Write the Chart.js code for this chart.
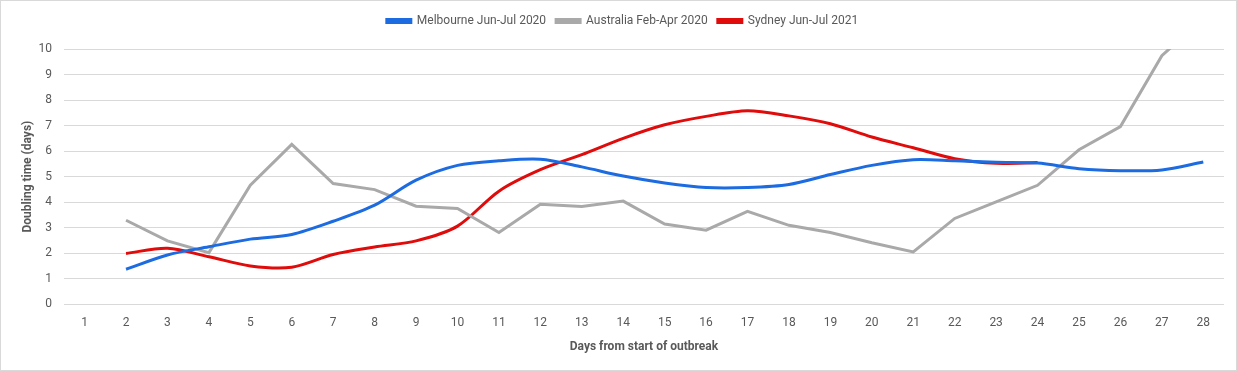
<!DOCTYPE html>
<html>
<head>
<meta charset="utf-8">
<script src="https://cdn.jsdelivr.net/npm/chart.js@4.4.0/dist/chart.umd.min.js"></script>
<style>
  html, body { margin: 0; padding: 0; background: #fff; }
  #wrap { position: relative; width: 1235px; height: 369px; border: 1px solid #d9d9d9; }
</style>
</head>
<body>
<div id="wrap"><canvas id="chart"></canvas></div>
<script>
const days = ['1','2','3','4','5','6','7','8','9','10','11','12','13','14','15','16','17','18','19','20','21','22','23','24','25','26','27','28'];
const melbourne = [null, 1.37, 1.93, 2.25, 2.55, 2.73, 3.25, 3.88, 4.86, 5.44, 5.62, 5.68, 5.38, 5.02, 4.75, 4.57, 4.57, 4.69, 5.08, 5.44, 5.66, 5.62, 5.56, 5.53, 5.31, 5.23, 5.26, 5.57];
const australia = [null, 3.29, 2.48, 2.02, 4.66, 6.26, 4.73, 4.49, 3.84, 3.75, 2.81, 3.92, 3.83, 4.04, 3.14, 2.90, 3.64, 3.09, 2.81, 2.41, 2.05, 3.36, 4.01, 4.66, 6.05, 6.96, 9.74, 11.2];
const sydney = [null, 1.99, 2.19, 1.86, 1.50, 1.45, 1.95, 2.24, 2.48, 3.06, 4.43, 5.27, 5.86, 6.50, 7.03, 7.36, 7.58, 7.38, 7.07, 6.55, 6.13, 5.70, 5.52, 5.55, null, null, null, null];

const textColor = '#595959';
const fontFamily = "'Roboto', sans-serif";

// extra room under the legend, like the spreadsheet layout
const legendGap = {
  id: 'legendGap',
  beforeInit(chart) {
    const fit = chart.legend.fit;
    chart.legend.fit = function () {
      fit.call(this);
      this.height += 12;
    };
  }
};

new Chart(document.getElementById('chart'), {
  type: 'line',
  data: {
    labels: days,
    datasets: [
      { label: 'Melbourne Jun-Jul 2020', data: melbourne, borderColor: '#1c6be0', backgroundColor: '#1c6be0', borderWidth: 3, pointRadius: 0, tension: 0.3 },
      { label: 'Australia Feb-Apr 2020', data: australia, borderColor: '#a9a9a9', backgroundColor: '#a9a9a9', borderWidth: 3, pointRadius: 0, tension: 0 },
      { label: 'Sydney Jun-Jul 2021', data: sydney, borderColor: '#e00b0b', backgroundColor: '#e00b0b', borderWidth: 3, pointRadius: 0, tension: 0.3 }
    ]
  },
  plugins: [legendGap],
  options: {
    responsive: true,
    maintainAspectRatio: false,
    animation: false,
    layout: { padding: { left: 20, right: 12, top: 4, bottom: 16 } },
    plugins: {
      tooltip: { enabled: false },
      legend: {
        position: 'top',
        labels: {
          color: textColor,
          font: { family: fontFamily, size: 12 },
          boxWidth: 24,
          boxHeight: 3,
          padding: 10
        }
      }
    },
    scales: {
      x: {
        offset: true,
        grid: { display: false, offset: true },
        border: { display: false },
        ticks: { color: textColor, font: { family: fontFamily, size: 12 }, padding: 4, maxRotation: 0, autoSkip: false },
        title: { display: true, text: 'Days from start of outbreak', color: textColor, font: { family: fontFamily, size: 12, weight: 'bold' }, padding: { top: 5, bottom: 0 } }
      },
      y: {
        min: 0,
        max: 10,
        afterFit(scale) { scale.width -= 15; },
        ticks: { stepSize: 1, color: textColor, font: { family: fontFamily, size: 12 }, padding: 12 },
        grid: { color: '#d9d9d9', drawTicks: false },
        border: { display: false },
        title: { display: true, text: 'Doubling time (days)', color: textColor, font: { family: fontFamily, size: 12, weight: 'bold' }, padding: { top: 0, bottom: 6 } }
      }
    }
  }
});
</script>
</body>
</html>
